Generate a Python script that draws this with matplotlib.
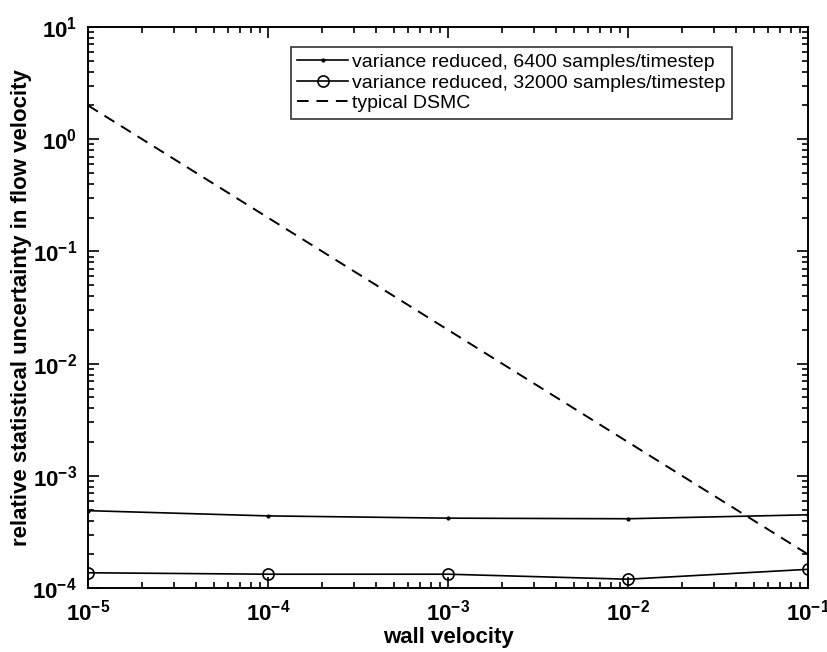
import numpy as np
import matplotlib.pyplot as plt

plt.rcParams['font.family'] = ['Liberation Sans', 'DejaVu Sans']

wall_velocity = [1e-5, 1e-4, 1e-3, 1e-2, 1e-1]
vr_6400 = [4.9e-4, 4.4e-4, 4.2e-4, 4.15e-4, 4.5e-4]
vr_32000 = [1.37e-4, 1.33e-4, 1.33e-4, 1.2e-4, 1.47e-4]
dsmc = [2.0, 2e-1, 2e-2, 2e-3, 2e-4]

fig = plt.figure(figsize=(8.27, 6.52), dpi=100)
ax = fig.add_axes([0.1064, 0.098, 0.8706, 0.8606])

ax.loglog(wall_velocity, vr_6400, 'k-', marker='.', markersize=4, lw=1.2,
          label='variance reduced, 6400 samples/timestep')
ax.loglog(wall_velocity, vr_32000, 'k-', marker='o', markersize=8, mfc='none',
          mew=1.2, lw=1.2, label='variance reduced, 32000 samples/timestep')
ax.loglog(wall_velocity, dsmc, 'k--', lw=1.4, dashes=(6, 4), label='typical DSMC')

ax.set_xlim(1e-5, 1e-1)
ax.set_ylim(1e-4, 1e1)
ax.set_xlabel('wall velocity', fontsize=16, fontweight='bold', labelpad=1)
ax.set_ylabel('relative statistical uncertainty in flow velocity', fontsize=16,
              fontweight='bold', labelpad=0)

ax.tick_params(which='both', direction='in', top=True, right=True, width=1.2)
ax.tick_params(which='major', length=8, labelsize=16, pad=8)
ax.tick_params(which='minor', length=4)
for lab in ax.get_xticklabels() + ax.get_yticklabels():
    lab.set_fontweight('bold')
for s in ax.spines.values():
    s.set_linewidth(1.4)

leg = ax.legend(loc='upper right', bbox_to_anchor=(0.908, 0.982), fontsize=14,
                frameon=True, fancybox=False, edgecolor='k', handlelength=2.6,
                borderpad=0.35, labelspacing=0.15, handletextpad=0.2)
leg.get_frame().set_linewidth(1.2)

fig.savefig('out.png', dpi=100)
